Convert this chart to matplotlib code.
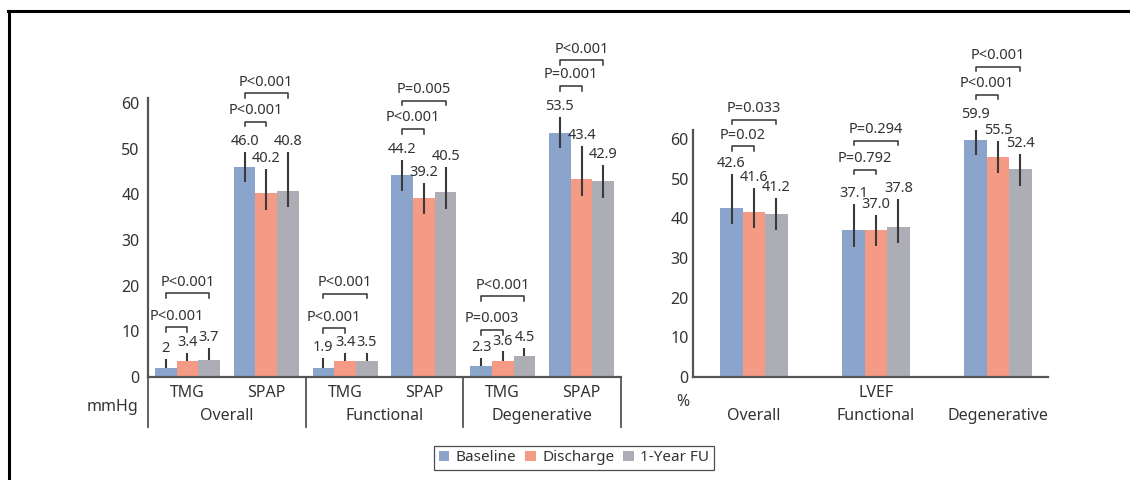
import matplotlib
matplotlib.use("Agg")
import matplotlib.pyplot as plt
from matplotlib.lines import Line2D
from matplotlib.patches import Patch

plt.rcParams['font.family'] = ['Noto Sans', 'DejaVu Sans']

# left panel: TMG / SPAP (mmHg)
groups_left = ["Overall", "Functional", "Degenerative"]
measures_left = ["TMG", "SPAP", "TMG", "SPAP", "TMG", "SPAP"]
base_txt_l = ["2", "46.0", "1.9", "44.2", "2.3", "53.5"]
dis_txt_l = ["3.4", "40.2", "3.4", "39.2", "3.6", "43.4"]
fu_txt_l = ["3.7", "40.8", "3.5", "40.5", "4.5", "42.9"]
base_up_l = [1.9, 3.2, 2.3, 3.3, 1.9, 3.5]
base_dn_l = [0, 3.4, 0, 3.4, 0, 3.3]
dis_up_l = [1.8, 5.3, 1.8, 3.3, 2.0, 7.2]
dis_dn_l = [0, 3.7, 0, 3.5, 0, 3.7]
fu_up_l = [2.7, 8.5, 1.7, 5.4, 1.8, 3.6]
fu_dn_l = [0, 3.5, 0, 3.7, 0, 3.6]
p12_l = ["P<0.001", "P<0.001", "P<0.001", "P<0.001", "P=0.003", "P=0.001"]
p13_l = ["P<0.001", "P<0.001", "P<0.001", "P=0.005", "P<0.001", "P<0.001"]
y12_l = [10.9, 55.9, 10.7, 54.3, 10.3, 63.7]
y13_l = [18.3, 62.1, 18.2, 60.5, 17.7, 69.3]

# right panel: LVEF (%)
groups_right = ["Overall", "Functional", "Degenerative"]
base_txt_r = ["42.6", "37.1", "59.9"]
dis_txt_r = ["41.6", "37.0", "55.5"]
fu_txt_r = ["41.2", "37.8", "52.4"]
base_up_r = [8.7, 6.6, 3.8]
base_dn_r = [4.0, 4.2, 4.0]
dis_up_r = [6.0, 3.9, 4.0]
dis_dn_r = [4.0, 4.0, 4.0]
fu_up_r = [4.0, 7.2, 3.8]
fu_dn_r = [4.0, 4.1, 4.2]
p12_r = ["P=0.02", "P=0.792", "P<0.001"]
p13_r = ["P=0.033", "P=0.294", "P<0.001"]
y12_r = [58.2, 52.2, 71.1]
y13_r = [64.8, 59.5, 78.2]

series = ["Baseline", "Discharge", "1-Year FU"]
colors = ["#8AA4CC", "#F49A85", "#ADADB5"]
txt = "#333333"
spine_c = "#555555"
fs = 11.5      # axis / category text
fs_val = 10.5  # value and P labels


def draw_panel(ax, texts, ups, dns, p12, p13, y12, y13, width, tick):
    n = len(texts[0])
    for k in range(3):
        vals = [float(s) for s in texts[k]]
        xs = [i + (k - 1) * width for i in range(n)]
        ax.bar(xs, vals, width=width, color=colors[k], zorder=2)
        ax.errorbar(xs, vals, yerr=[dns[k], ups[k]], fmt="none",
                    ecolor="#3a3a3a", elinewidth=1.5, capsize=0, zorder=3)
        for x, v, u, s in zip(xs, vals, ups[k], texts[k]):
            ax.annotate(s, (x, v + u), xytext=(0, 7.5), textcoords="offset points",
                        ha="center", va="center", fontsize=fs_val, color=txt,
                        annotation_clip=False)
    # significance brackets
    for i in range(n):
        x1 = i - width
        for x2, yb, p in [(i, y12[i], p12[i]), (i + width, y13[i], p13[i])]:
            ax.plot([x1, x1, x2, x2], [yb - tick, yb, yb, yb - tick],
                    color="#333333", lw=1.1, clip_on=False, zorder=3)
            ax.annotate(p, ((x1 + x2) / 2, yb), xytext=(0, 8),
                        textcoords="offset points", ha="center", va="center",
                        fontsize=fs_val, color=txt, annotation_clip=False)
    for side in ["top", "right"]:
        ax.spines[side].set_visible(False)
    for side in ["left", "bottom"]:
        ax.spines[side].set_color(spine_c)
        ax.spines[side].set_linewidth(1.6)
    ax.set_yticks(range(0, 61, 10))


fig = plt.figure(figsize=(11.3, 4.8), dpi=100)

ax1 = fig.add_axes([148 / 1130, 103 / 480, 473 / 1130, 278.6 / 480])
draw_panel(ax1, [base_txt_l, dis_txt_l, fu_txt_l],
           [base_up_l, dis_up_l, fu_up_l], [base_dn_l, dis_dn_l, fu_dn_l],
           p12_l, p13_l, y12_l, y13_l, 0.275, 1.0)
ax1.set_xlim(-0.5, 5.5)
ax1.set_ylim(0, 61)
ax1.set_xticks(range(6))
ax1.set_xticklabels(measures_left)
ax1.tick_params(axis="x", length=0, pad=6, labelsize=fs, colors=txt)
ax1.tick_params(axis="y", length=0, pad=6, labelsize=fs, colors=txt)
trans = ax1.get_xaxis_transform()
for xs in [-0.5, 1.5, 3.5, 5.5]:
    ax1.plot([xs, xs], [0, -0.18], transform=trans, color=spine_c,
             lw=1.3, clip_on=False)
for i, g in enumerate(groups_left):
    ax1.text(2 * i + 0.5, -0.14, g, transform=trans, ha="center", va="center",
             fontsize=fs, color=txt)
ax1.text(-0.02, -0.108, "mmHg", transform=ax1.transAxes, ha="right",
         va="center", fontsize=fs, color=txt)

ax2 = fig.add_axes([693 / 1130, 103 / 480, 355 / 1130, 247 / 480])
draw_panel(ax2, [base_txt_r, dis_txt_r, fu_txt_r],
           [base_up_r, dis_up_r, fu_up_r], [base_dn_r, dis_dn_r, fu_dn_r],
           p12_r, p13_r, y12_r, y13_r, 0.184, 1.1)
ax2.set_xlim(-0.5, 2.41)
ax2.set_ylim(0, 62.3)
ax2.set_xticks([])
ax2.tick_params(axis="y", length=0, pad=3, labelsize=fs, colors=txt)
trans2 = ax2.get_xaxis_transform()
for i, g in enumerate(groups_right):
    ax2.text(i, -0.158, g, transform=trans2, ha="center", va="center",
             fontsize=fs, color=txt)
ax2.text(1, -0.065, "LVEF", transform=trans2, ha="center", va="center",
         fontsize=fs, color=txt)
ax2.text(-0.03, -0.10, "%", transform=ax2.transAxes, ha="center",
         va="center", fontsize=fs, color=txt)

# legend
handles = [Patch(facecolor=c) for c in colors]
leg = fig.legend(handles, series, loc="center", bbox_to_anchor=(0.508, 0.046),
                 ncol=3, fancybox=False, edgecolor="#222222", fontsize=11,
                 handlelength=0.7, handleheight=0.7, handletextpad=0.4,
                 columnspacing=0.6, borderpad=0.3, labelcolor=txt)
leg.get_frame().set_linewidth(0.9)

# panel frame
fig.add_artist(Line2D([0.007, 1.0], [0.977, 0.977], color="black", lw=2.2))
fig.add_artist(Line2D([0.0084, 0.0084], [0.0, 0.977], color="black", lw=2.2))

fig.savefig("out.png", dpi=100)
